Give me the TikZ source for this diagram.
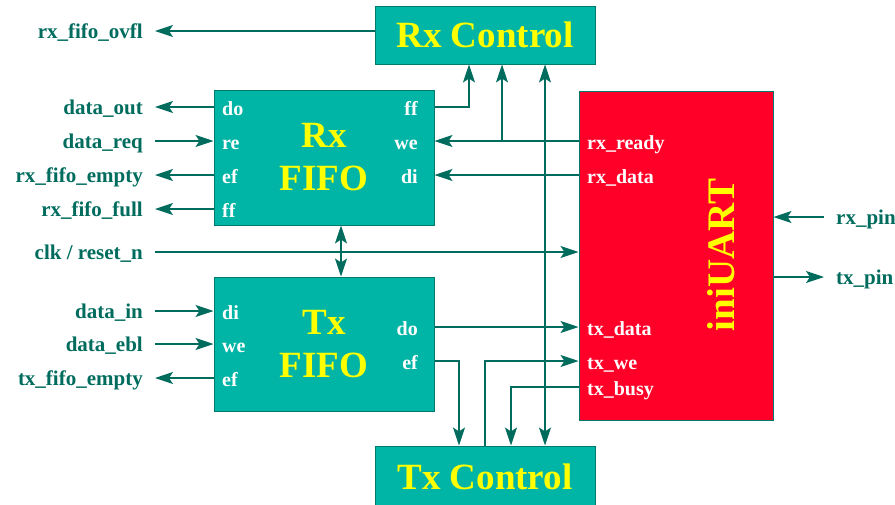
\documentclass[tikz,border=0pt]{standalone}
\usepackage{fontspec}
\setmainfont{Liberation Serif}
\usetikzlibrary{
	arrows.meta, 
	calc, 
	positioning
}
\definecolor{BoxTeal}{RGB}{0, 181, 165}
\definecolor{EdgeTeal}{RGB}{0, 122, 108}
\definecolor{WireTeal}{RGB}{0, 108, 94}
\definecolor{UartRed}{RGB}{255, 0, 40}
\definecolor{TitleYellow}{RGB}{255, 255, 0}

\tikzset{
	>={Stealth[length=18pt, width=12pt, inset=4pt]},
	block/.style={draw=EdgeTeal, line width=1pt, fill=BoxTeal, minimum width=220pt, inner sep=0pt},
	headline/.style={font=\fontsize{37}{43}\selectfont\bfseries, text=TitleYellow, align=center},
	port/.style={font=\fontsize{20}{22}\selectfont\bfseries, text=white, inner sep=0pt, text height=19pt, text depth=3pt},
	sig/.style={font=\fontsize{21}{23}\selectfont\bfseries, text=WireTeal, inner xsep=12pt, inner ysep=0pt, text height=19pt, text depth=4pt},
	wire/.style={draw=WireTeal, line width=1.2pt, ->}
}

\begin{document}
\begin{tikzpicture}[x=1pt, y=-1pt]
		\useasboundingbox (0,0) rectangle (895,504);
		\node[block, headline, minimum height=58pt] (rxctl) at (485,35) {Rx Control};
		\node[block, headline, minimum height=135pt] (rxfifo) at (324,157.5) {Rx\\FIFO};
		\node[block, headline, minimum height=134pt] (txfifo) at (324,344) {Tx\\FIFO};
		\node[block, headline, minimum height=62pt] (txctl) at (485,477) {Tx Control};
		\node[block, fill=UartRed, minimum width=194pt, minimum height=329pt] (uart) at (676,255.5) {};
		\node[headline, font=\fontsize{39}{43}\selectfont\bfseries, rotate=90] (uartname) at (721,255) {iniUART};
		\foreach \n/\y/\t in {rdo/107/do, rre/141/re, ref/175/ef, rff/209/ff, tdi/311/di, twe/344/we, tef/378/ef}
		\node[port, anchor=west] (\n) at (222,\y) {\t};
		\foreach \n/\y/\t in {rqff/107/ff, rqwe/141/we, rqdi/175/di, tqdo/327/do, tqef/361/ef}
		\node[port, anchor=east] (\n) at (418,\y) {\t};
		\foreach \n/\y/\t in {urdy/141/rx\_ready, urxd/175/rx\_data, utxd/327/tx\_data, utwe/361/tx\_we, ubsy/387/tx\_busy}
		\node[port, anchor=west] (\n) at (587,\y) {\t};
		\foreach \n/\y/\t in {ovfl/31/rx\_fifo\_ovfl, dout/107/data\_out, dreq/141/data\_req, rxe/175/rx\_fifo\_empty, rxf/209/rx\_fifo\_full, clk/252/{clk / reset\_n}, din/311/data\_in, debl/344/data\_ebl, txe/378/tx\_fifo\_empty}
		\node[sig, anchor=east] (\n) at (155,\y) {\t};
		\node[sig, anchor=west] (rxpin) at (824,217) {rx\_pin};
		\node[sig, anchor=west] (txpin) at (824,277) {tx\_pin};
		\draw[wire] (rxctl.west |- ovfl) -- (ovfl.east);
		\foreach \n in {dout, rxe, rxf}
		\draw[wire] (rxfifo.west |- \n) -- (\n.east);
		\draw[wire] (dreq.east) -- (rxfifo.west |- dreq);
		\draw[wire] (din.east) -- (txfifo.west |- din);
		\draw[wire] (debl.east) -- (txfifo.west |- debl);
		\draw[wire] (txfifo.west |- txe) -- (txe.east);
		\draw[wire] (clk.east) -- (uart.west |- clk);
		\draw[wire] (rxpin.west) -- (uart.east |- rxpin);
		\draw[wire] (uart.east |- txpin) -- (txpin.west);
		\coordinate (fftap) at ([xshift=-16pt]rxctl.south);
		\coordinate (rdytap) at ([xshift=17pt]rxctl.south);
		\coordinate (eftap) at ([xshift=-26pt]txctl.north);
		\coordinate (bsytap) at ([xshift=26pt]txctl.north);
		\draw[wire] (rxfifo.east |- rqff) -| (fftap);
		\draw[wire] (uart.west |- urdy) -- (rxfifo.east |- urdy);
		\draw[wire] (rdytap |- urdy) -- (rdytap);
		\draw[wire] (uart.west |- urxd) -- (rxfifo.east |- urxd);
		\draw[wire] (txfifo.east |- tqdo) -- (uart.west |- tqdo);
		\draw[wire] (txfifo.east |- tqef) -| (eftap);
		\draw[wire] (txctl.north) |- (uart.west |- utwe);
		\draw[wire] (uart.west |- ubsy) -| (bsytap);
		\draw[wire, <->] ([xshift=60pt]txctl.north) -- ([xshift=60pt]rxctl.south);
		\draw[wire, <->] ([xshift=17pt]rxfifo.south) -- ([xshift=17pt]txfifo.north);
	\end{tikzpicture}
\end{document}
